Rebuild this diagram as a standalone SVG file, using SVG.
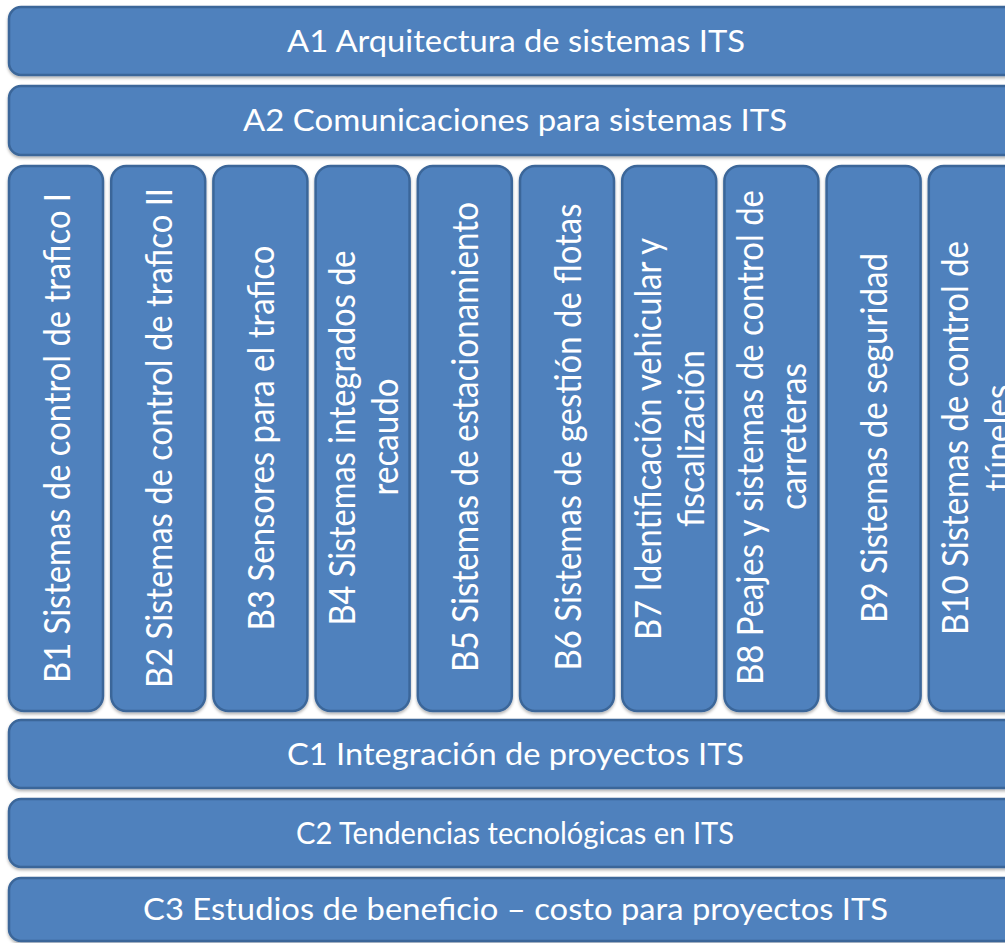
<svg xmlns="http://www.w3.org/2000/svg" width="1005" height="943" viewBox="0 0 1005 943">
  <style>
    .box { fill: #4F81BD; stroke: #3B6699; stroke-width: 2.5; filter: url(#sh); }
    .h { font-family: "Lato", "Open Sans", sans-serif; font-size: 31px; fill: #FFFFFF; text-anchor: middle; }
    .v { font-family: "Lato", "Open Sans", sans-serif; font-size: 37px; fill: #FFFFFF; text-anchor: middle; }
  </style>
  <defs>
    <filter id="sh" x="-5%" y="-5%" width="110%" height="115%">
      <feDropShadow dx="0" dy="2" stdDeviation="1.8" flood-color="#000000" flood-opacity="0.3"/>
    </filter>
  </defs>
  <rect width="1005" height="943" fill="#FFFFFF"/>

  <g id="A1">
    <rect class="box" x="9" y="7" width="1012" height="68" rx="12"/>
    <text class="h" x="516" y="52" textLength="458" lengthAdjust="spacingAndGlyphs">A1 Arquitectura de sistemas ITS</text>
  </g>
  <g id="A2">
    <rect class="box" x="9" y="86" width="1012" height="69" rx="12"/>
    <text class="h" x="515" y="131" textLength="544" lengthAdjust="spacingAndGlyphs">A2 Comunicaciones para sistemas ITS</text>
  </g>

  <g id="B1">
    <rect class="box" x="9" y="166" width="94" height="545" rx="15"/>
    <text class="v" transform="translate(69.5,438) rotate(-90)" textLength="490" lengthAdjust="spacingAndGlyphs">B1 Sistemas de control de trafico I</text>
  </g>
  <g id="B2">
    <rect class="box" x="111.2" y="166" width="94" height="545" rx="15"/>
    <text class="v" transform="translate(171.7,438) rotate(-90)" textLength="500" lengthAdjust="spacingAndGlyphs">B2 Sistemas de control de trafico II</text>
  </g>
  <g id="B3">
    <rect class="box" x="213.4" y="166" width="94" height="545" rx="15"/>
    <text class="v" transform="translate(273.9,438) rotate(-90)" textLength="385" lengthAdjust="spacingAndGlyphs">B3 Sensores para el trafico</text>
  </g>
  <g id="B4">
    <rect class="box" x="315.6" y="166" width="94" height="545" rx="15"/>
    <text class="v" transform="translate(354.6,438) rotate(-90)" textLength="375" lengthAdjust="spacingAndGlyphs">B4 Sistemas integrados de</text>
    <text class="v" transform="translate(397.6,437) rotate(-90)" textLength="117" lengthAdjust="spacingAndGlyphs">recaudo</text>
  </g>
  <g id="B5">
    <rect class="box" x="417.8" y="166" width="94" height="545" rx="15"/>
    <text class="v" transform="translate(478.3,437) rotate(-90)" textLength="470" lengthAdjust="spacingAndGlyphs">B5 Sistemas de estacionamiento</text>
  </g>
  <g id="B6">
    <rect class="box" x="520" y="166" width="94" height="545" rx="15"/>
    <text class="v" transform="translate(580.5,437) rotate(-90)" textLength="467" lengthAdjust="spacingAndGlyphs">B6 Sistemas de gestión de flotas</text>
  </g>
  <g id="B7">
    <rect class="box" x="622.2" y="166" width="94" height="545" rx="15"/>
    <text class="v" transform="translate(661.2,439) rotate(-90)" textLength="402" lengthAdjust="spacingAndGlyphs">B7 Identificación vehicular y</text>
    <text class="v" transform="translate(704.2,438.5) rotate(-90)" textLength="177" lengthAdjust="spacingAndGlyphs">fiscalización</text>
  </g>
  <g id="B8">
    <rect class="box" x="724.4" y="166" width="94" height="545" rx="15"/>
    <text class="v" transform="translate(763.4,437.5) rotate(-90)" textLength="495" lengthAdjust="spacingAndGlyphs">B8 Peajes y sistemas de control de</text>
    <text class="v" transform="translate(806.4,436.5) rotate(-90)" textLength="147" lengthAdjust="spacingAndGlyphs">carreteras</text>
  </g>
  <g id="B9">
    <rect class="box" x="826.6" y="166" width="94" height="545" rx="15"/>
    <text class="v" transform="translate(887.1,438) rotate(-90)" textLength="370" lengthAdjust="spacingAndGlyphs">B9 Sistemas de seguridad</text>
  </g>
  <g id="B10">
    <rect class="box" x="928.8" y="166" width="94" height="545" rx="15"/>
    <text class="v" transform="translate(967.8,438) rotate(-90)" textLength="394" lengthAdjust="spacingAndGlyphs">B10 Sistemas de control de</text>
    <text class="v" transform="translate(1010.8,438) rotate(-90)" textLength="107" lengthAdjust="spacingAndGlyphs">túneles</text>
  </g>

  <g id="C1">
    <rect class="box" x="9" y="720" width="1012" height="68" rx="12"/>
    <text class="h" x="515.5" y="765" textLength="457" lengthAdjust="spacingAndGlyphs">C1 Integración de proyectos ITS</text>
  </g>
  <g id="C2">
    <rect class="box" x="9" y="799" width="1012" height="68" rx="12"/>
    <text class="h" x="515" y="844" textLength="438" lengthAdjust="spacingAndGlyphs">C2 Tendencias tecnológicas en ITS</text>
  </g>
  <g id="C3">
    <rect class="box" x="9" y="878" width="1012" height="63" rx="12"/>
    <text class="h" x="515.5" y="920" textLength="745" lengthAdjust="spacingAndGlyphs">C3 Estudios de beneficio – costo para proyectos ITS</text>
  </g>

  <g id="connectors"/>
</svg>
